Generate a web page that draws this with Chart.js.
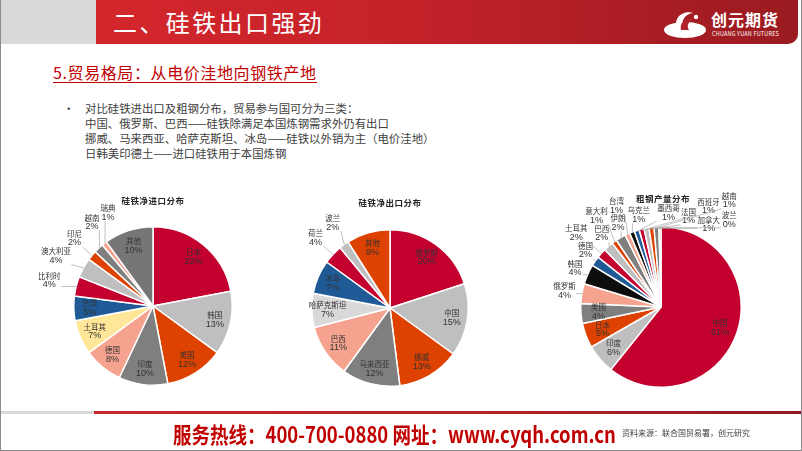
<!DOCTYPE html>
<html>
<head>
<meta charset="utf-8">
<script src="https://cdn.jsdelivr.net/npm/chart.js@4.4.1/dist/chart.umd.min.js"></script>
<style>
  html, body { margin: 0; padding: 0; background: #fff; }
  #slide {
    position: relative; width: 802px; height: 451px; overflow: hidden;
    box-sizing: border-box; border: 1px solid #8c8c8c; border-top: none;
    font-family: 'Noto Sans CJK SC', sans-serif;
  }
  .abs { position: absolute; }
  #grayTab { left: 0; top: 0; width: 95px; height: 44px; background: #d9d9d9; }
  #redBar {
    left: 95px; top: 0; width: 702px; height: 44px; border-bottom-right-radius: 10px;
    background: linear-gradient(to right, #d3262c 0%, #c42229 45%, #a81d23 80%, #9a1b21 100%);
  }
  #title { left: 112px; top: 5px; color: #fff; font-size: 24px; letter-spacing: 2.4px; line-height: 34px; }
  #logoText { left: 710px; top: 8px; color: #fff; font-size: 16px; font-weight: 700; letter-spacing: 1px; line-height: 22px; }
  #logoSub { left: 711px; top: 31px; color: #fff; font-size: 5.5px; line-height: 7px; letter-spacing: 0.2px; }
  #subtitle {
    left: 52px; top: 62px; color: #c00000; font-size: 16px; line-height: 20px;
    border-bottom: 1.5px solid #c00000; letter-spacing: 0.6px;
  }
  #bullets { left: 62px; top: 101px; color: #404040; font-size: 11.4px; line-height: 15px; }
  #bullets .dot { position: absolute; left: 0; top: 0; }
  #bullets .txt { margin-left: 22px; white-space: nowrap; }
  .pieTitle { color: #262626; font-size: 8.5px; font-weight: 700; transform: translateX(-50%); white-space: nowrap; letter-spacing: 0.5px; }
  canvas.pie { position: absolute; }
  #footGray { left: 0; top: 411px; width: 93px; height: 3px; background: #d9d9d9; }
  #footRed { left: 93px; top: 411px; width: 709px; height: 3px; background: linear-gradient(to right, #c8282e, #b02228 60%, #8e1a1f); }
  #hotline { left: 172px; top: 418px; color: #c00000; font-size: 22px; font-weight: 700; line-height: 30px; white-space: nowrap; transform-origin: 0 50%; }
  #source { left: 621px; top: 428px; color: #404040; font-size: 8px; line-height: 10px; white-space: nowrap; }
</style>
</head>
<body>
<div id="slide">
  <div id="grayTab" class="abs"></div>
  <div id="redBar" class="abs"></div>
  <div id="title" class="abs">二、硅铁出口强劲</div>
  <svg class="abs" style="left:662px;top:8px" width="46" height="32" viewBox="0 0 46 32">
    <ellipse cx="22" cy="22" rx="21" ry="8" fill="#fff"/>
    <path d="M14 20 C 10 10, 20 2, 30 5 C 24 6, 18 10, 20 18 Z" fill="#fff"/>
    <path d="M18 22 C 16 14, 24 9, 31 11 C 26 13, 23 17, 26 22 Z" fill="#b3242a"/>
    <circle cx="33" cy="9" r="2.2" fill="#fff"/>
  </svg>
  <div id="logoText" class="abs">创元期货</div>
  <div id="logoSub" class="abs">CHUANG YUAN FUTURES</div>

  <div id="subtitle" class="abs">5.贸易格局：从电价洼地向钢铁产地</div>
  <div id="bullets" class="abs">
    <span class="dot">•</span>
    <div class="txt">对比硅铁进出口及粗钢分布，贸易参与国可分为三类：</div>
    <div class="txt">中国、俄罗斯、巴西——硅铁除满足本国炼钢需求外仍有出口</div>
    <div class="txt">挪威、马来西亚、哈萨克斯坦、冰岛——硅铁以外销为主（电价洼地）</div>
    <div class="txt">日韩美印德土——进口硅铁用于本国炼钢</div>
  </div>

  <canvas id="importPie" class="pie" width="280" height="280" style="left:12px;top:166px"></canvas>
  <canvas id="exportPie" class="pie" width="278" height="278" style="left:250px;top:169px"></canvas>
  <canvas id="steelPie" class="pie" width="282" height="282" style="left:519px;top:166px"></canvas>

  <div class="abs pieTitle" style="left:152px;top:194px">硅铁净进口分布</div>
  <div class="abs pieTitle" style="left:389px;top:196px">硅铁净出口分布</div>
  <div class="abs pieTitle" style="left:662px;top:192px">粗钢产量分布</div>

  <div id="footGray" class="abs"></div>
  <div id="footRed" class="abs"></div>
  <div id="hotline" class="abs">服务热线：400-700-0880 网址：www.cyqh.com.cn</div>
  <div id="source" class="abs">资料来源：联合国贸易署，创元研究</div>
</div>

<script>
// 硅铁净进口分布 (%)
const importNames = ['日本', '韩国', '美国', '印度', '德国', '土耳其', '台湾', '比利时', '澳大利亚', '印尼', '越南', '瑞典', '其他'];
const importShare = [22, 13, 12, 10, 8, 7, 5, 4, 4, 2, 2, 1, 10];

// 硅铁净出口分布 (%)
const exportNames = ['俄罗斯', '中国', '挪威', '马来西亚', '巴西', '哈萨克斯坦', '冰岛', '荷兰', '波兰', '其他'];
const exportShare = [20, 15, 13, 12, 11, 7, 7, 4, 2, 9];

// 粗钢产量分布 (%)
const steelNames = ['中国', '印度', '日本', '美国', '俄罗斯', '韩国', '德国', '土耳其', '巴西', '意大利', '伊朗', '台湾',
  '乌克兰', '墨西哥', '法国', '西班牙', '加拿大', '越南', '波兰'];
const steelShare = [61, 6, 5, 4, 4, 4, 2, 2, 2, 1, 2, 1, 1, 1, 1, 1, 1, 1, 0.4];

// palette
const CRIMSON = '#c4002f', LGRAY = '#bfbfbf', ORANGE = '#de4200', GRAY = '#7f7f7f',
      SALMON = '#f5a28f', YELLOW = '#ffe699', BLUE = '#1f5a96', BLACK = '#0d0d0d';

const importColors = [CRIMSON, LGRAY, ORANGE, GRAY, SALMON, YELLOW, BLUE, CRIMSON, LGRAY, ORANGE, GRAY, SALMON, '#767676'];
const exportColors = [CRIMSON, LGRAY, ORANGE, GRAY, SALMON, '#d9d9d9', BLUE, CRIMSON, LGRAY, ORANGE];
const steelCycle = [CRIMSON, LGRAY, ORANGE, GRAY, SALMON, BLACK, BLUE];
const steelColors = steelNames.map((_, i) => steelCycle[i % steelCycle.length]);

const nameFont = '7.5px "Noto Sans CJK SC", sans-serif';
const pctFont = '9px "Liberation Sans", Arial, sans-serif';

// labels: inside for big slices, outside with leader lines for the small ones
const pieLabels = {
  id: 'pieLabels',
  afterDatasetsDraw(chart, args, opts) {
    const ctx = chart.ctx;
    const meta = chart.getDatasetMeta(0);
    const names = chart.data.labels;
    const vals = chart.data.datasets[0].data;
    const placed = (opts.reserved || []).slice();
    const minTop = opts.minTop || 0;
    const deg = Math.PI / 180;

    const measure = (name, pct) => {
      ctx.font = nameFont;
      const w1 = ctx.measureText(name).width;
      ctx.font = pctFont;
      const w2 = ctx.measureText(pct).width;
      return { w: Math.max(w1, w2) + 1, h: 17 };
    };
    const hits = (b) => placed.some(p =>
      Math.abs(p.cx - b.cx) < (p.w + b.w) / 2 && Math.abs(p.cy - b.cy) < (p.h + b.h) / 2);
    const drawText = (name, pct, cx, cy) => {
      ctx.fillStyle = '#333';
      ctx.textAlign = 'center';
      ctx.textBaseline = 'middle';
      ctx.font = nameFont;
      ctx.fillText(name, cx, cy - 4.5);
      ctx.font = pctFont;
      ctx.fillText(pct, cx, cy + 4.5);
    };

    // candidate spots around a slice: both ways in angle, outward in ring, cheapest first
    const cands = [];
    for (let step = -45; step <= 90; step++) {
      opts.levels.forEach((lv, k) => cands.push({
        step, lv, cost: (step < 0 ? -step * opts.backCost : step) + k * opts.ringCost
      }));
    }
    cands.sort((a, b) => a.cost - b.cost);

    let lastAngle = -Infinity;
    ctx.save();
    meta.data.forEach((arc, i) => {
      const p = arc.getProps(['x', 'y', 'startAngle', 'endAngle', 'outerRadius'], true);
      const mid = (p.startAngle + p.endAngle) / 2;
      const pct = Math.round(vals[i]) + '%';
      const size = measure(names[i], pct);
      const outside = i >= opts.outStart && i <= opts.outEnd;
      if (!outside) {
        const r = p.outerRadius * opts.inside;
        const b = { cx: p.x + Math.cos(mid) * r, cy: p.y + Math.sin(mid) * r, w: size.w, h: size.h };
        placed.push(b);
        drawText(names[i], pct, b.cx, b.cy);
        return;
      }
      let box = null, boxAngle = mid;
      for (const c of cands) {
        const a = mid + c.step * deg;
        // keep the labels in slice order around the pie
        if (a < lastAngle - opts.orderTol * deg) continue;
        const r = p.outerRadius + c.lv;
        const px = p.x + Math.cos(a) * r, py = p.y + Math.sin(a) * r;
        const b = { cx: px + Math.cos(a) * size.w / 2, cy: py + Math.sin(a) * size.h / 2, w: size.w, h: size.h };
        if (b.cy - b.h / 2 < minTop) continue;
        // keep outside labels clear of the pie itself
        const nx = Math.min(Math.max(p.x, b.cx - b.w / 2), b.cx + b.w / 2);
        const ny = Math.min(Math.max(p.y, b.cy - b.h / 2), b.cy + b.h / 2);
        if (Math.hypot(nx - p.x, ny - p.y) < p.outerRadius + 1) continue;
        if (!hits(b)) { box = b; boxAngle = a; break; }
      }
      lastAngle = boxAngle;
      placed.push(box);
      // leader line from slice edge to the nearest point of the label box
      const ex = p.x + Math.cos(mid) * (p.outerRadius - 1);
      const ey = p.y + Math.sin(mid) * (p.outerRadius - 1);
      const nx = Math.min(Math.max(ex, box.cx - box.w / 2), box.cx + box.w / 2);
      const ny = Math.min(Math.max(ey, box.cy - box.h / 2), box.cy + box.h / 2);
      if (Math.hypot(nx - ex, ny - ey) > 3) {
        ctx.strokeStyle = '#a6a6a6';
        ctx.lineWidth = 0.7;
        ctx.beginPath();
        ctx.moveTo(ex, ey);
        ctx.lineTo(nx, ny);
        ctx.stroke();
      }
      drawText(names[i], pct, box.cx, box.cy);
    });
    ctx.restore();
  }
};

const makePie = (canvasId, names, values, colors, labelOpts) => {
  new Chart(document.getElementById(canvasId), {
    type: 'pie',
    data: {
      labels: names,
      datasets: [{
        data: values,
        backgroundColor: colors,
        borderColor: '#ffffff',
        borderWidth: 1.5
      }]
    },
    options: {
      responsive: false,
      animation: false,
      events: [],
      layout: { padding: 60 },
      plugins: {
        legend: { display: false },
        tooltip: { enabled: false },
        pieLabels: labelOpts
      }
    },
    plugins: [pieLabels]
  });
};

makePie('importPie', importNames, importShare, importColors,
  { outStart: 7, outEnd: 11, inside: 0.8, levels: [2, 16], ringCost: 4, backCost: 0.9, orderTol: 2 });
makePie('exportPie', exportNames, exportShare, exportColors,
  { outStart: 7, outEnd: 8, inside: 0.8, levels: [3, 16], ringCost: 4, backCost: 1.5, orderTol: 2 });
makePie('steelPie', steelNames, steelShare, steelColors,
  { outStart: 4, outEnd: 18, inside: 0.78, levels: [6, 22, 38, 54, 70], ringCost: 3, backCost: 0.8, orderTol: 3,
    minTop: 17, reserved: [{ cx: 143, cy: 32, w: 58, h: 12 }] });

// squeeze the hotline to the reference width
const hot = document.getElementById('hotline');
hot.style.transform = 'scaleX(' + (443 / hot.offsetWidth) + ')';
</script>
</body>
</html>
